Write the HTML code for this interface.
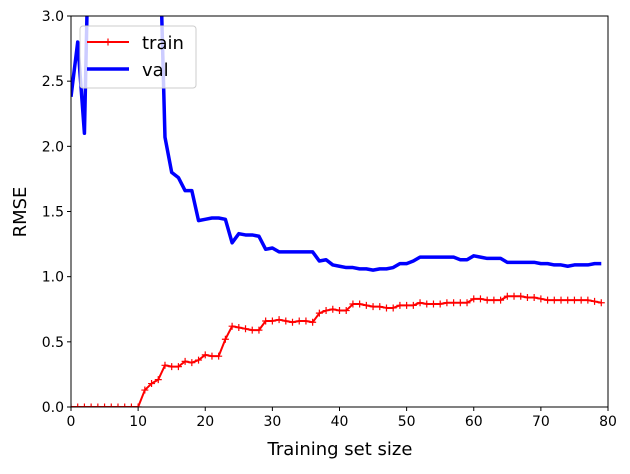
<!DOCTYPE html>
<html><head><meta charset="utf-8"><style>
body{margin:0;background:#fff;font-family:"Liberation Sans","DejaVu Sans",sans-serif}
svg text{font-family:"DejaVu Sans","Liberation Sans",sans-serif}
</style></head><body>
<svg id="chart" width="630" height="469" viewBox="0 0 630 469" xmlns="http://www.w3.org/2000/svg">
<defs><clipPath id="plotclip"><rect x="71" y="16" width="537" height="391"/></clipPath></defs>
<rect x="0" y="0" width="630" height="469" fill="#fff"/>
<g id="series" clip-path="url(#plotclip)"></g>
<g id="axes"></g>
</svg>
<script>
const trainErrors = [0,0,0,0,0,0,0,0,0,0,0,0.13,0.18,0.21,0.32,0.31,0.31,0.35,0.34,0.36,0.40,0.39,0.39,0.52,0.62,0.61,0.60,0.59,0.59,0.66,0.66,0.67,0.66,0.65,0.66,0.66,0.65,0.72,0.74,0.75,0.74,0.74,0.79,0.79,0.78,0.77,0.77,0.76,0.76,0.78,0.78,0.78,0.80,0.79,0.79,0.79,0.80,0.80,0.80,0.80,0.83,0.83,0.82,0.82,0.82,0.85,0.85,0.85,0.84,0.84,0.83,0.82,0.82,0.82,0.82,0.82,0.82,0.82,0.81,0.80];
const valErrors = [2.38,2.80,2.10,4.5,9,12,15,14,12,10,8,6,5,4,2.07,1.80,1.76,1.66,1.66,1.43,1.44,1.45,1.45,1.44,1.26,1.33,1.32,1.32,1.31,1.21,1.22,1.19,1.19,1.19,1.19,1.19,1.19,1.12,1.13,1.09,1.08,1.07,1.07,1.06,1.06,1.05,1.06,1.06,1.07,1.10,1.10,1.12,1.15,1.15,1.15,1.15,1.15,1.15,1.13,1.13,1.16,1.15,1.14,1.14,1.14,1.11,1.11,1.11,1.11,1.11,1.10,1.10,1.09,1.09,1.08,1.09,1.09,1.09,1.10,1.10];
const xTicks = [0,10,20,30,40,50,60,70,80];
const yTicks = [0.0,0.5,1.0,1.5,2.0,2.5,3.0];

const NS="http://www.w3.org/2000/svg";
const X0=71,X1=608,Y0=407,Y1=16;
const xs=v=>X0+(v-0)/(80-0)*(X1-X0);
const ys=v=>Y0-(v-0)/(3-0)*(Y0-Y1);
function mk(tag,attrs,parent){const e=document.createElementNS(NS,tag);for(const k in attrs)e.setAttribute(k,attrs[k]);parent.appendChild(e);return e;}
const series=document.getElementById('series'), axes=document.getElementById('axes');

const valLine=mk('polyline',{points:valErrors.map((v,i)=>xs(i)+','+ys(v)).join(' '),fill:'none',stroke:'#0000ff','stroke-width':3.5,'stroke-linejoin':'round'},series);


const trainLine=mk('polyline',{points:trainErrors.map((v,i)=>xs(i)+','+ys(v)).join(' '),fill:'none',stroke:'#ff0000','stroke-width':2,'stroke-linejoin':'round'},series);


trainErrors.forEach((v,i)=>{
  const m=mk('path',{d:`M${xs(i)-3.5},${ys(v)}h7M${xs(i)},${ys(v)-3.5}v7`,stroke:'#ff0000','stroke-width':1.2},series);
  
  
});

const frame=mk('rect',{x:X0,y:Y1,width:X1-X0,height:Y0-Y1,fill:'none',stroke:'#000','stroke-width':1},axes);


xTicks.forEach(t=>{
  mk('line',{x1:xs(t),x2:xs(t),y1:Y0,y2:Y0+4,stroke:'#000'},axes);
  const tx=mk('text',{x:xs(t),y:Y0+19,'text-anchor':'middle','font-size':14},axes);
  tx.textContent=t;
  
  
});
yTicks.forEach(t=>{
  mk('line',{x1:X0-4,x2:X0,y1:ys(t),y2:ys(t),stroke:'#000'},axes);
  const tx=mk('text',{x:X0-7,y:ys(t)+5,'text-anchor':'end','font-size':14},axes);
  tx.textContent=t.toFixed(1);
  
  
});
</script>
<svg style="position:absolute;left:0;top:0" width="630" height="469" xmlns="http://www.w3.org/2000/svg">
<text x="340" y="455" text-anchor="middle" font-size="18" font-family="DejaVu Sans,Liberation Sans,sans-serif">Training set size</text>
<text x="26" y="212" text-anchor="middle" font-size="18" font-family="DejaVu Sans,Liberation Sans,sans-serif" transform="rotate(-90 26 212)">RMSE</text>
<g>
<rect x="80" y="26" width="116" height="62" rx="3" fill="#fff" fill-opacity="0.8" stroke="#ccc"/>
<g>
<line x1="87" y1="42" x2="129" y2="42" stroke="#f00" stroke-width="2"/>
<path d="M104.5,42h7M108,38.5v7" stroke="#f00" stroke-width="1.2"/>
<text x="142" y="49" font-size="18" font-family="DejaVu Sans,Liberation Sans,sans-serif">train</text>
</g>
<g>
<line x1="87" y1="69" x2="129" y2="69" stroke="#00f" stroke-width="3.5"/>
<text x="142" y="76" font-size="18" font-family="DejaVu Sans,Liberation Sans,sans-serif">val</text>
</g>
</g>
</svg>
</body></html>
